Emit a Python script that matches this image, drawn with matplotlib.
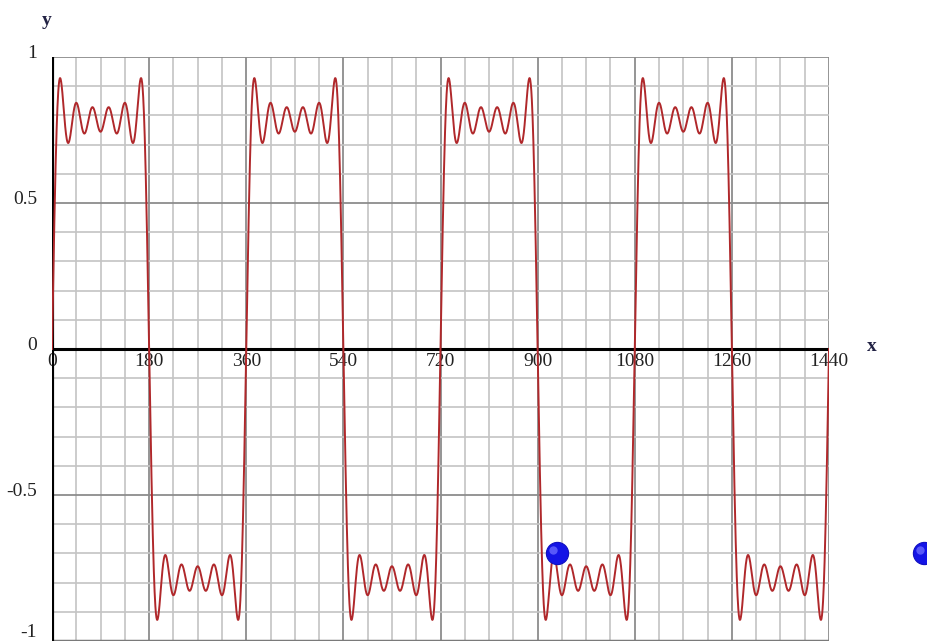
import numpy as np
import matplotlib
matplotlib.use("Agg")
import matplotlib.pyplot as plt

# Fourier square-wave approximation: odd harmonics and their amplitudes
harmonics = [1, 3, 5, 7, 9, 11]
amplitudes = [1.0, 1 / 3, 1 / 5, 1 / 7, 1 / 9, 1 / 11]

x_ticks = [0, 180, 360, 540, 720, 900, 1080, 1260, 1440]
y_ticks = [-1, -0.5, 0, 0.5, 1]
y_tick_labels = ["-1", "-0.5", "0", "0.5", "1"]

# blue balls (x in degrees, y value)
ball_x = [936, 1616]
ball_y = [-0.70, -0.70]

plt.rcParams['font.family'] = ['Liberation Serif', 'DejaVu Serif']

fig = plt.figure(figsize=(9.28, 6.43), dpi=100)
ax = fig.add_axes([52 / 928, 2 / 643, 777 / 928, 584 / 643])
ax.set_xlim(0, 1440)
ax.set_ylim(-1, 1)
ax.set_axis_off()

# --- grid ---
for gx in np.arange(0, 1441, 45):
    major = gx % 180 == 0
    ax.axvline(gx, color='#8c8c8c' if major else '#c4c4c4',
               lw=1.3 if major else 1.2, zorder=1)
for gy in np.arange(-1, 1.001, 0.1):
    major = abs(round(gy * 10) % 5) == 0
    ax.axhline(gy, color='#8c8c8c' if major else '#c4c4c4',
               lw=1.3 if major else 1.2, zorder=1)
ax.axhline(-1, color='#7a7a7a', lw=2.5, zorder=2)

# axes
ax.axhline(0, color='black', lw=2.2, zorder=3)
ax.axvline(0, color='black', lw=3, zorder=3)

# --- curve ---
xs = np.linspace(0, 1440, 3000)
t = np.radians(xs)
ys = np.zeros_like(xs)
for n, a in zip(harmonics, amplitudes):
    ys += a * np.sin(n * t)
ax.plot(xs, ys, color='#b0282b', lw=1.4, zorder=4)

# --- balls ---
ax.plot(ball_x, ball_y, 'o', ms=16, color='#1414e6', mec='#1010c0',
        mew=0.8, zorder=6, clip_on=False)
ax.plot([bx - 8 for bx in ball_x], [by + 0.012 for by in ball_y], 'o',
        ms=6, color='#6a6aff', mec='none', alpha=0.8, zorder=7, clip_on=False)

# --- tick labels ---
for xv in x_ticks:
    ax.text(xv, -0.012, str(xv), ha='center', va='top', fontsize=14,
            color='#222222', zorder=2)
for yv, lab in zip(y_ticks, y_tick_labels):
    yy = yv + 0.012 if yv > -1 else -0.972
    ax.text(-28, yy, lab, ha='right', va='center', fontsize=14,
            color='#222222', clip_on=False)

ax.text(-10, 1.125, 'y', ha='center', va='center', fontsize=14,
        fontweight='bold', color='#222244', clip_on=False)
ax.text(1520, 0.01, 'x', ha='center', va='center', fontsize=14,
        fontweight='bold', color='#222244', clip_on=False)

fig.savefig("out.png", dpi=100)
